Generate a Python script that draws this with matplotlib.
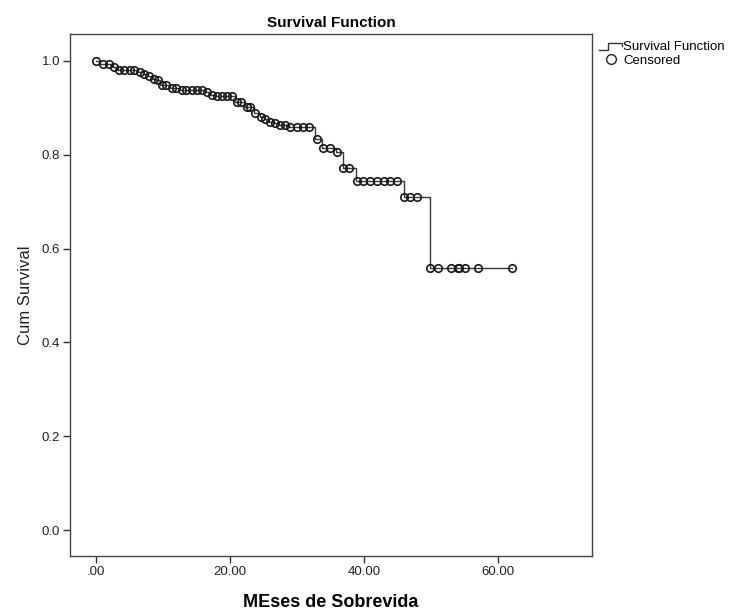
import numpy as np
import matplotlib
matplotlib.use("Agg")
import matplotlib.pyplot as plt
from matplotlib.lines import Line2D
from matplotlib.legend_handler import HandlerBase

plt.rcParams['font.family'] = ['Liberation Sans', 'DejaVu Sans']

# ── step curve (time of drop, cumulative survival after the drop) ──
event_time = [0.5, 2.5, 3.3, 6.3, 7.0, 7.7, 8.4, 9.0, 9.6, 11.0, 12.5, 16.3,
              17.0, 17.8, 20.8, 22.3, 23.5, 24.4, 25.0, 25.8, 26.5, 27.3,
              28.8, 32.7, 33.7, 35.8, 36.8, 38.8, 45.9, 49.9]
event_surv = [0.993, 0.986, 0.980, 0.976, 0.972, 0.967, 0.962, 0.958, 0.948,
              0.942, 0.938, 0.933, 0.928, 0.925, 0.913, 0.901, 0.888, 0.880,
              0.875, 0.870, 0.867, 0.864, 0.859, 0.833, 0.815, 0.806, 0.771,
              0.744, 0.710, 0.558]
last_time = 62.0

# censored observations (times)
censor_time = [0.0, 1.0, 2.0, 2.7, 3.5, 4.2, 5.0, 5.7, 6.5, 7.2, 7.9, 8.6,
               9.2, 9.8, 10.5, 11.3, 12.0, 12.8, 13.5, 14.3, 15.0, 15.8, 16.5,
               17.3, 18.0, 18.8, 19.5, 20.3, 21.0, 21.7, 22.5, 23.0, 23.7,
               24.6, 25.2, 26.0, 26.7, 27.5, 28.2, 29.0, 30.0, 30.9, 31.8,
               32.9, 33.9, 34.9, 36.0, 36.9, 37.8, 38.9, 39.9, 40.9, 41.9,
               42.9, 43.9, 44.9, 45.9, 46.9, 47.9, 49.9, 51.0, 53.0, 54.0,
               54.2, 55.1, 57.0, 62.0]

x_ticks = [0, 20, 40, 60]
x_ticklabels = [".00", "20.00", "40.00", "60.00"]
y_ticks = [0.0, 0.2, 0.4, 0.6, 0.8, 1.0]


class StepHandler(HandlerBase):
    # little step glyph like the SPSS legend
    def create_artists(self, legend, orig, xd, yd, w, h, fontsize, trans):
        xs = [xd, xd + 0.35 * w, xd + 0.35 * w, xd + 0.95 * w, xd + 0.95 * w]
        ys = [yd + 0.1 * h, yd + 0.1 * h, yd + 0.8 * h, yd + 0.8 * h, yd + 0.45 * h]
        ln = Line2D(xs, ys, color="#333333", lw=1.0, transform=trans)
        return [ln]


fig = plt.figure(figsize=(7.3, 6.14), dpi=100)
ax = fig.add_axes([70 / 730, 58 / 614, 522 / 730, 522 / 614])

st_x = np.concatenate([[0.0], event_time, [last_time]])
st_y = np.concatenate([[1.0], event_surv, [event_surv[-1]]])
ax.step(st_x, st_y, where="post", color="#3a3a3a", lw=1.0, zorder=2)

idx = np.searchsorted(st_x, censor_time, side="right") - 1
cens_y = st_y[idx]
ax.plot(censor_time, cens_y, ls="none", marker="o", ms=5.4, mfc="none",
        mec="#1a1a1a", mew=1.2, zorder=3)

ax.set_xlim(-3.88, 74.0)
ax.set_ylim(-0.055, 1.057)
ax.set_xticks(x_ticks)
ax.set_xticklabels(x_ticklabels)
ax.set_yticks(y_ticks)
ax.set_yticklabels([f"{v:.1f}" for v in y_ticks])
ax.tick_params(direction="out", length=5, width=1, colors="#333333",
               labelsize=9.5, labelcolor="#222222", pad=2)
for s in ax.spines.values():
    s.set_color("#444444")
    s.set_linewidth(1.0)

ax.set_title("Survival Function", fontsize=11, fontweight="bold", pad=5)
ax.set_xlabel("MEses de Sobrevida", fontsize=13, fontweight="bold", labelpad=12)
ax.set_ylabel("Cum Survival", fontsize=12, labelpad=6, color="#222222")

h_step = Line2D([], [], color="#333333")
h_cens = Line2D([], [], ls="none", marker="o", ms=7, mfc="none", mec="#222222")
fig.legend([h_step, h_cens], ["Survival Function", "Censored"],
           handler_map={h_step: StepHandler()},
           loc="upper left", bbox_to_anchor=(590 / 730, 1 - 32 / 614),
           frameon=False, fontsize=9.5, handlelength=1.8, handletextpad=0.0,
           labelspacing=0.1, borderpad=0.2)

fig.savefig("out.png", dpi=100)
